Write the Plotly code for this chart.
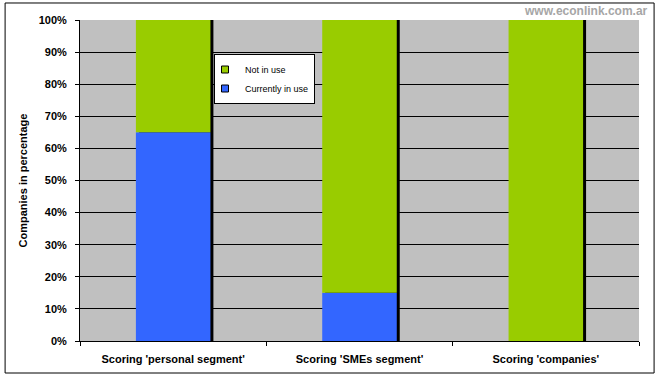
import plotly.graph_objects as go

categories = ["Scoring 'personal segment'", "Scoring 'SMEs segment'", "Scoring 'companies'"]
in_use = [65, 15, 0]
not_in_use = [35, 85, 100]
y_ticks = [0, 10, 20, 30, 40, 50, 60, 70, 80, 90, 100]
y_tick_labels = [f"{v}%" for v in y_ticks]

totals = [a + b for a, b in zip(in_use, not_in_use)]

FONT = "Liberation Sans, Arial, sans-serif"
BLUE = "#3366FF"
GREEN = "#99CC00"
BAR_W = 0.4
SHADOW = 0.016

fig = go.Figure()
# shadow behind bars
fig.add_trace(go.Bar(x=categories, y=totals, base=[0] * 3, width=BAR_W,
                     offset=-BAR_W / 2 + SHADOW, marker=dict(color="black", line=dict(width=0)),
                     showlegend=False, hoverinfo="skip"))
fig.add_trace(go.Bar(x=categories, y=in_use, base=[0] * 3, width=BAR_W, offset=-BAR_W / 2,
                     name="Currently in use", showlegend=False,
                     marker=dict(color=BLUE, line=dict(width=0))))
fig.add_trace(go.Bar(x=categories, y=not_in_use, base=in_use, width=BAR_W, offset=-BAR_W / 2,
                     name="Not in use", showlegend=False,
                     marker=dict(color=GREEN, line=dict(width=0))))
# legend entries with small square swatches
fig.add_trace(go.Scatter(x=[None], y=[None], mode="markers", name="Not in use",
                         marker=dict(symbol="square", size=7, color=GREEN, line=dict(color="black", width=1))))
fig.add_trace(go.Scatter(x=[None], y=[None], mode="markers", name="Currently in use",
                         marker=dict(symbol="square", size=7, color=BLUE, line=dict(color="black", width=1))))

fig.update_layout(
    barmode="overlay",
    width=659, height=377,
    margin=dict(l=80, r=20, t=20, b=36, autoexpand=False),
    paper_bgcolor="white",
    plot_bgcolor="#C0C0C0",
    font=dict(family=FONT, size=11, color="black"),
    showlegend=True,
    legend=dict(x=(214 - 80) / 559, y=(341 - 54) / 321, xanchor="left", yanchor="top",
                traceorder="normal", bgcolor="white", bordercolor="black", borderwidth=1,
                font=dict(size=9, family=FONT), itemwidth=30, tracegroupgap=0,
                indentation=-10),
    xaxis=dict(type="category", showgrid=False, ticks="outside", tickson="boundaries",
               ticklen=4, tickcolor="black", showline=True, linecolor="black", linewidth=1,
               tickfont=dict(family=FONT, size=11, weight="bold"), range=[-0.5, 2.5],
               automargin=False, ticklabelstandoff=8),
    yaxis=dict(range=[0, 100], tickvals=y_ticks, ticktext=y_tick_labels,
               showgrid=True, gridcolor="black", gridwidth=1, zeroline=False,
               ticks="outside", ticklen=4, tickcolor="black", showline=True, linecolor="black",
               tickfont=dict(family=FONT, size=11, weight="bold"), automargin=False,
               ticklabelstandoff=6,
               title=dict(text="Companies in percentage", font=dict(family=FONT, size=11, weight="bold"),
                          standoff=8)),
    shapes=[dict(type="rect", xref="paper", yref="paper", x0=-0.134, x1=1.027, y0=-0.0997, y1=1.053,
                 line=dict(color="black", width=1), fillcolor="rgba(0,0,0,0)", layer="below")],
    annotations=[dict(text="www.econlink.com.ar", xref="paper", yref="paper", x=1.019, y=1.056,
                      xanchor="right", yanchor="top", showarrow=False,
                      font=dict(family=FONT, size=12, color="#A6A6A6", weight="bold"))],
)

fig.write_html("out.html", config={"displayModeBar": False},
               post_script="document.body.style.margin='0';")
